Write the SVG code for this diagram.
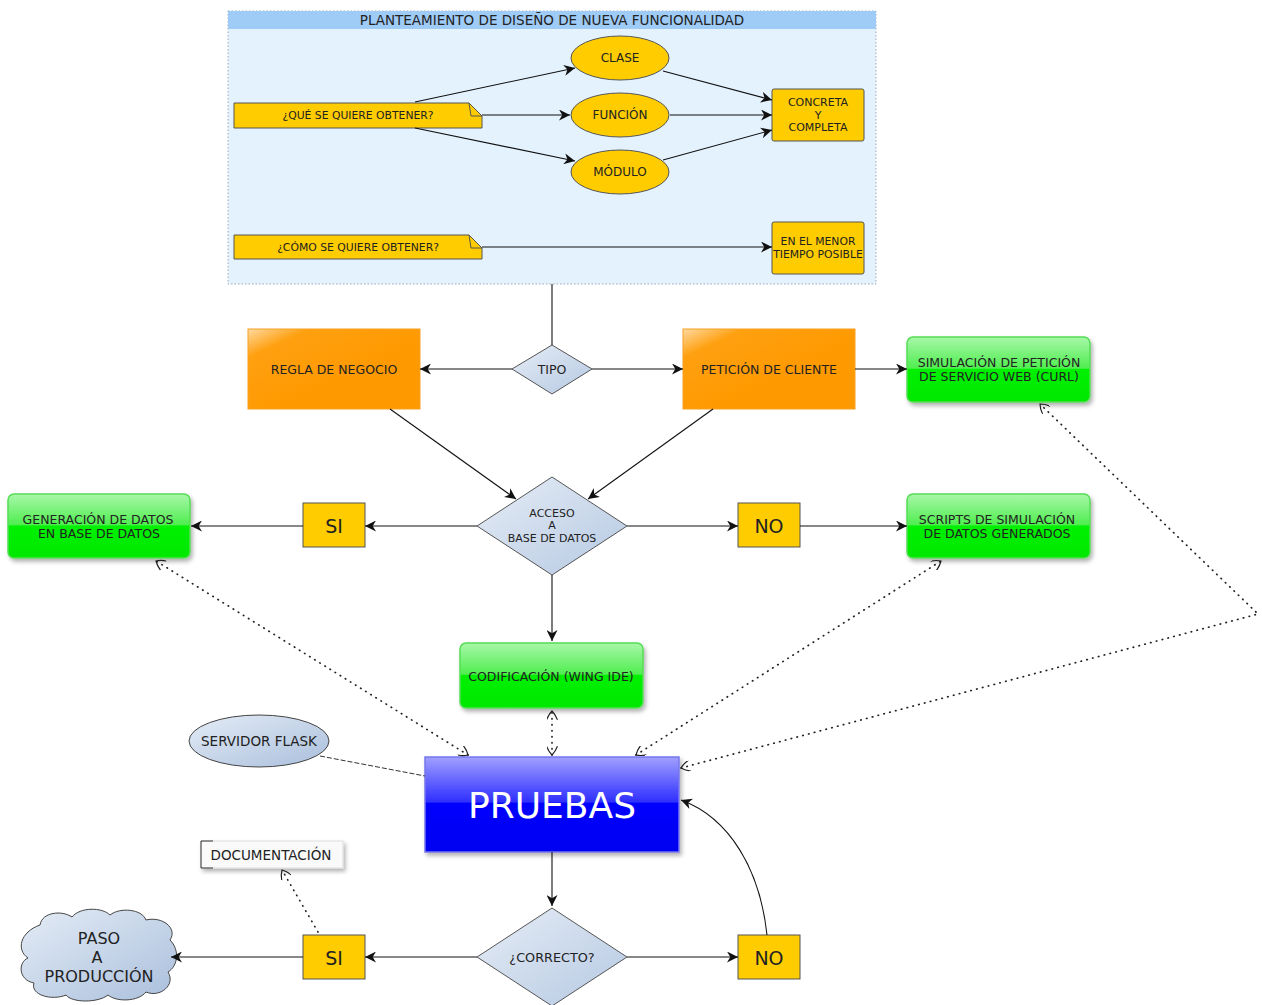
<svg xmlns="http://www.w3.org/2000/svg" width="1262" height="1005" viewBox="0 0 1262 1005">
<style>
  text { font-family: "DejaVu Sans", "Liberation Sans", sans-serif; fill: #222; text-anchor: middle; dominant-baseline: central; }
  .yel { fill: #ffcc00; stroke: #555; stroke-width: 1; }
  .dia { fill: url(#gDia); stroke: #555; stroke-width: 1; }
  .line { fill: none; stroke: #111; stroke-width: 1.1; }
  .dot { fill: none; stroke: #222; stroke-width: 1.7; stroke-dasharray: 0.5 5.5; stroke-linecap: round; }
  .green { fill: url(#gGreen); stroke: #55dd55; stroke-width: 1.5; filter: url(#shadow); }
  .orange { fill: url(#gOrange); stroke: #f5a020; stroke-width: 1; }
  .t10 { font-size: 10.8px; }
  .t11 { font-size: 11px; }
  .tn { font-size: 12px; }
  .t12 { font-size: 12.5px; }
  .t13 { font-size: 13.5px; }
  .t18 { font-size: 19px; }
</style>
<defs>
  <linearGradient id="gDia" x1="0" y1="0" x2="1" y2="1">
    <stop offset="0" stop-color="#e6edf6"/>
    <stop offset="1" stop-color="#b5c8e2"/>
  </linearGradient>
  <linearGradient id="gGreen" x1="0" y1="0" x2="0" y2="1">
    <stop offset="0" stop-color="#a8f7a8"/>
    <stop offset="0.48" stop-color="#50ee50"/>
    <stop offset="0.5" stop-color="#00f000"/>
    <stop offset="1" stop-color="#00e800"/>
  </linearGradient>
  <linearGradient id="gOrange" x1="0" y1="0" x2="0.6" y2="0.6">
    <stop offset="0" stop-color="#ffd9a0"/>
    <stop offset="0.3" stop-color="#ffa010"/>
    <stop offset="1" stop-color="#ff9900"/>
  </linearGradient>
  <linearGradient id="gBlue" x1="0" y1="0" x2="0" y2="1">
    <stop offset="0" stop-color="#a0a0ff"/>
    <stop offset="0.47" stop-color="#3030ff"/>
    <stop offset="0.49" stop-color="#0000ff"/>
    <stop offset="1" stop-color="#0000f0"/>
  </linearGradient>
  <linearGradient id="gPale" x1="0" y1="0" x2="1" y2="1">
    <stop offset="0" stop-color="#e4ecf6"/>
    <stop offset="1" stop-color="#aabfdc"/>
  </linearGradient>
  <filter id="shadow" x="-10%" y="-10%" width="125%" height="135%">
    <feDropShadow dx="2" dy="3" stdDeviation="2" flood-color="#000" flood-opacity="0.3"/>
  </filter>
  <marker id="arr" viewBox="0 0 10 10" refX="10" refY="5" markerWidth="11" markerHeight="11" markerUnits="userSpaceOnUse" orient="auto">
    <path d="M0,0 L10,5 L0,10 L3,5 Z" fill="#111"/>
  </marker>
  <marker id="vee" viewBox="0 0 10 10" refX="9" refY="5" markerWidth="11" markerHeight="11" markerUnits="userSpaceOnUse" orient="auto-start-reverse">
    <path d="M1,0 Q6,2 9,5 Q6,8 1,10" fill="none" stroke="#222" stroke-width="1.1"/>
  </marker>
</defs>

<!-- design block -->
<g id="planteamiento">
  <rect x="228" y="11" width="648" height="273" fill="#e3f2fd" stroke="#9ab" stroke-width="1" stroke-dasharray="1.5 2"/>
  <rect x="228" y="11" width="648" height="18" fill="#9fcbf7"/>
  <text x="552" y="20" class="t13">PLANTEAMIENTO DE DISEÑO DE NUEVA FUNCIONALIDAD</text>
</g>
<g id="que">
  <path d="M234,103 H469 L482,116 V128 H234 Z" class="yel"/>
  <path d="M469,103 L471,116 H482" fill="none" stroke="#555"/>
  <text x="358" y="115" class="t10">¿QUÉ SE QUIERE OBTENER?</text>
</g>
<g id="como">
  <path d="M234,235 H469 L482,248 V259 H234 Z" class="yel"/>
  <path d="M469,235 L471,248 H482" fill="none" stroke="#555"/>
  <text x="358" y="247" class="t10">¿CÓMO SE QUIERE OBTENER?</text>
</g>
<g id="clase">
  <ellipse cx="620" cy="58" rx="49" ry="22" class="yel"/>
  <text x="620" y="58" class="tn">CLASE</text>
</g>
<g id="funcion">
  <ellipse cx="620" cy="115" rx="49" ry="22" class="yel"/>
  <text x="620" y="115" class="tn">FUNCIÓN</text>
</g>
<g id="modulo">
  <ellipse cx="620" cy="172" rx="49" ry="22" class="yel"/>
  <text x="620" y="172" class="tn">MÓDULO</text>
</g>
<g id="concreta">
  <rect x="772" y="89" width="92" height="52" rx="2" class="yel"/>
  <text x="818" y="102" class="t11">CONCRETA</text>
  <text x="818" y="115" class="t11">Y</text>
  <text x="818" y="127" class="t11">COMPLETA</text>
</g>
<g id="menor">
  <rect x="772" y="222" width="92" height="52" rx="2" class="yel"/>
  <text x="818" y="241" class="t10">EN EL MENOR</text>
  <text x="818" y="254" class="t10">TIEMPO POSIBLE</text>
</g>

<!-- type decision -->
<g id="tipo">
  <path d="M552,345 L592,369 L552,394 L512,369 Z" class="dia"/>
  <text x="552" y="369" class="t12">TIPO</text>
</g>
<g id="regla">
  <rect x="248" y="329" width="172" height="80" class="orange"/>
  <text x="334" y="369" class="t12">REGLA DE NEGOCIO</text>
</g>
<g id="peticion">
  <rect x="683" y="329" width="172" height="80" class="orange"/>
  <text x="769" y="369" class="t12">PETICIÓN DE CLIENTE</text>
</g>
<g id="simulacion">
  <rect x="907" y="337" width="183" height="65" rx="6" class="green"/>
  <text x="999" y="362" class="t12">SIMULACIÓN DE PETICIÓN</text>
  <text x="999" y="376" class="t12">DE SERVICIO WEB (CURL)</text>
</g>

<!-- database decision -->
<g id="acceso">
  <path d="M552,477 L627,526 L552,575 L477,526 Z" class="dia"/>
  <text x="552" y="513" class="t11">ACCESO</text>
  <text x="552" y="525" class="t11">A</text>
  <text x="552" y="538" class="t11">BASE DE DATOS</text>
</g>
<g id="si1">
  <rect x="303" y="503" width="62" height="44" class="yel"/>
  <text x="334" y="526" class="t18">SI</text>
</g>
<g id="no1">
  <rect x="738" y="503" width="62" height="44" class="yel"/>
  <text x="769" y="526" class="t18">NO</text>
</g>
<g id="generacion">
  <rect x="8" y="494" width="182" height="64" rx="6" class="green"/>
  <text x="98" y="519" class="t12">GENERACIÓN DE DATOS</text>
  <text x="99" y="533" class="t12">EN BASE DE DATOS</text>
</g>
<g id="scripts">
  <rect x="907" y="494" width="183" height="64" rx="6" class="green"/>
  <text x="997" y="519" class="t12">SCRIPTS DE SIMULACIÓN</text>
  <text x="997" y="533" class="t12">DE DATOS GENERADOS</text>
</g>
<g id="codificacion">
  <rect x="460" y="643" width="183" height="65" rx="6" class="green"/>
  <text x="551" y="676" class="t12">CODIFICACIÓN (WING IDE)</text>
</g>

<!-- testing -->
<g id="flask">
  <ellipse cx="259" cy="741" rx="70" ry="26" fill="url(#gPale)" stroke="#444" stroke-width="1"/>
  <text x="259" y="741" class="t13">SERVIDOR FLASK</text>
</g>
<g id="pruebas">
  <rect x="425" y="757" width="254" height="95" fill="url(#gBlue)" stroke="#7777ee" stroke-width="1.5" filter="url(#shadow)"/>
  <text x="552" y="805" style="font-size:36px; fill:#fff">PRUEBAS</text>
</g>
<g id="documentacion">
  <rect x="201" y="841" width="142" height="27" fill="#fafafa" stroke="#ddd" stroke-width="1" filter="url(#shadow)"/>
  <path d="M213,841 H201 V868 H213" fill="none" stroke="#333" stroke-width="1"/>
  <text x="271" y="855" class="t13">DOCUMENTACIÓN</text>
</g>
<g id="correcto">
  <path d="M552,908 L627,957 L552,1006 L477,957 Z" class="dia"/>
  <text x="552" y="957" style="font-size:12.8px">¿CORRECTO?</text>
</g>
<g id="si2">
  <rect x="303" y="935" width="62" height="44" class="yel"/>
  <text x="334" y="958" class="t18">SI</text>
</g>
<g id="no2">
  <rect x="738" y="935" width="62" height="44" class="yel"/>
  <text x="769" y="958" class="t18">NO</text>
</g>
<g id="produccion">
  <path d="M40,925 C42,912 62,910 72,917 C80,907 102,907 110,915 C120,907 142,909 146,920 C162,916 178,928 170,940 C180,950 178,966 168,972 C176,985 160,998 146,992 C138,1002 116,1002 108,995 C98,1003 72,1003 66,995 C52,1001 30,995 34,983 C18,980 18,962 28,958 C16,950 20,932 40,925 Z" fill="url(#gPale)" stroke="#444" stroke-width="1"/>
  <text x="99" y="938" style="font-size:16px">PASO</text>
  <text x="97" y="957" style="font-size:16px">A</text>
  <text x="99" y="976" style="font-size:16px">PRODUCCIÓN</text>
</g>

<g id="connectors">
  <!-- inside design block -->
  <path d="M415,102 L575,68" class="line" marker-end="url(#arr)"/>
  <path d="M482,115 L570,115" class="line" marker-end="url(#arr)"/>
  <path d="M415,128 L575,161" class="line" marker-end="url(#arr)"/>
  <path d="M663,71 L772,100" class="line" marker-end="url(#arr)"/>
  <path d="M670,115 L772,115" class="line" marker-end="url(#arr)"/>
  <path d="M663,160 L772,130" class="line" marker-end="url(#arr)"/>
  <path d="M482,247 L772,247" class="line" marker-end="url(#arr)"/>
  <!-- type -->
  <path d="M552,284 L552,345" class="line"/>
  <path d="M512,369 L420,369" class="line" marker-end="url(#arr)"/>
  <path d="M592,369 L683,369" class="line" marker-end="url(#arr)"/>
  <path d="M855,369 L907,369" class="line" marker-end="url(#arr)"/>
  <path d="M390,409 L516,499" class="line" marker-end="url(#arr)"/>
  <path d="M713,409 L588,499" class="line" marker-end="url(#arr)"/>
  <!-- database -->
  <path d="M477,526 L365,526" class="line" marker-end="url(#arr)"/>
  <path d="M303,526 L191,526" class="line" marker-end="url(#arr)"/>
  <path d="M627,526 L738,526" class="line" marker-end="url(#arr)"/>
  <path d="M800,526 L907,526" class="line" marker-end="url(#arr)"/>
  <path d="M552,575 L552,641" class="line" marker-end="url(#arr)"/>
  <!-- dotted links to testing -->
  <path d="M468,755 L156,561" class="dot" marker-start="url(#vee)" marker-end="url(#vee)"/>
  <path d="M552,755 L552,711" class="dot" marker-start="url(#vee)" marker-end="url(#vee)"/>
  <path d="M636,755 L941,561" class="dot" marker-start="url(#vee)" marker-end="url(#vee)"/>
  <path d="M681,768 L1258,614 L1040,404" class="dot" marker-start="url(#vee)" marker-end="url(#vee)"/>
  <path d="M320,756 L425,776" fill="none" stroke="#333" stroke-width="1" stroke-dasharray="5 2"/>
  <!-- result -->
  <path d="M552,852 L552,906" class="line" marker-end="url(#arr)"/>
  <path d="M477,957 L365,957" class="line" marker-end="url(#arr)"/>
  <path d="M303,957 L171,957" class="line" marker-end="url(#arr)"/>
  <path d="M627,957 L738,957" class="line" marker-end="url(#arr)"/>
  <path d="M767,935 C760,870 730,818 681,800" class="line" marker-end="url(#arr)"/>
  <path d="M318,932 L282,870" class="dot" marker-end="url(#vee)"/>
</g>
</svg>
